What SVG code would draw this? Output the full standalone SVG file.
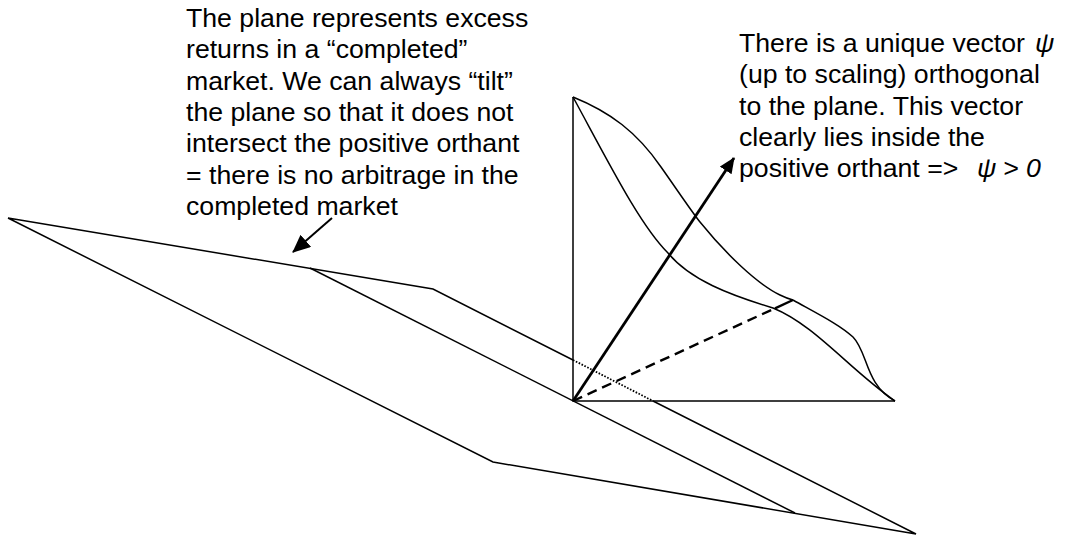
<svg xmlns="http://www.w3.org/2000/svg" width="1067" height="535" viewBox="0 0 1067 535">
<style>
.l{fill:none;stroke:#000;stroke-width:1.5}
.t{font-family:"Liberation Sans",Arial,sans-serif;font-size:26.67px;fill:#000}
.i{font-style:italic}
</style>
<defs>
<marker id="ah" markerUnits="userSpaceOnUse" markerWidth="18" markerHeight="16" refX="15" refY="7" orient="auto"><path d="M0 0L16 7L0 14Z" fill="#000"/></marker>
<marker id="ah2" markerUnits="userSpaceOnUse" markerWidth="20" markerHeight="18" refX="17" refY="8" orient="auto"><path d="M0 0L18 8L0 16Z" fill="#000"/></marker>
</defs>
<rect width="1067" height="535" fill="#fff"/>
<g id="connectors">
<path class="l" d="M8 218L433 289L573 360M653 401L916 534L493 462L8 218"/>
<path class="l" d="M310 268L795 513"/>
<path class="l" stroke-dasharray="1.6 1.6" style="stroke-width:1.8" d="M573 360L653 401"/>
<path class="l" d="M573 97V401H895"/>
<path class="l" d="M573 97C610 112 637 132 661 167C680 194 692 212 700 222C725 253 757 284 780 295Q786 298 793 300"/>
<path class="l" d="M573 97C610 165 640 225 668 253C690 280 730 295 773 308C815 325 850 370 895 401"/>
<path class="l" d="M793 300C820 315 840 325 853 337C868 352 865 385 895 401"/>
<path d="M573 401L775 308.3" fill="none" stroke="#000" stroke-width="2.4" stroke-dasharray="10 6"/>
<path d="M775 308.3L793 300" fill="none" stroke="#000" stroke-width="2.4"/>
<path d="M573 401L734 158" fill="none" stroke="#000" stroke-width="2.8" marker-end="url(#ah)"/>
<path d="M332 218L293 252" fill="none" stroke="#000" stroke-width="2" marker-end="url(#ah2)"/>
</g>
<g id="label-plane">
<text class="t" x="186" y="27">The plane represents excess</text>
<text class="t" x="186" y="58">returns in a “completed”</text>
<text class="t" x="186" y="90">market. We can always “tilt”</text>
<text class="t" x="186" y="121">the plane so that it does not</text>
<text class="t" x="186" y="152">intersect the positive orthant</text>
<text class="t" x="186" y="184">= there is no arbitrage in the</text>
<text class="t" x="186" y="215">completed market</text>
</g>
<g id="label-vector">
<text class="t" x="739" y="52">There is a unique vector <tspan class="i" x="1035">ψ</tspan></text>
<text class="t" x="739" y="83">(up to scaling) orthogonal</text>
<text class="t" x="739" y="115">to the plane. This vector</text>
<text class="t" x="739" y="146">clearly lies inside the</text>
<text class="t" x="739" y="177">positive orthant =&gt; <tspan class="i" x="977">ψ</tspan><tspan class="i" x="1003">&gt; 0</tspan></text>
</g>
</svg>
